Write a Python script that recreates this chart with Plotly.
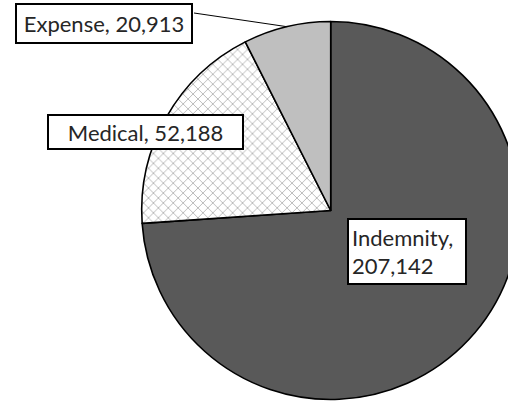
import math
import plotly.graph_objects as go

# Claim cost components
categories = ["Indemnity", "Medical", "Expense"]
values = [207142, 52188, 20913]
fills = ["#595959", "#ffffff", "#bfbfbf"]

W, H = 521, 402
cx, cy, r = 330.7, 210.5, 189.0  # pie centre / radius in pixels

fig = go.Figure(go.Pie(
    labels=categories,
    values=values,
    sort=False,
    direction="clockwise",
    rotation=0,
    textinfo="none",
    hoverinfo="label+value",
    marker=dict(
        colors=fills,
        line=dict(color="#000000", width=1.6),
        pattern=dict(
            shape=["", "x", ""],
            fgcolor=["#595959", "#b8b8b8", "#bfbfbf"],
            bgcolor=["#595959", "#ffffff", "#bfbfbf"],
            size=[7, 7, 7],
            solidity=[0.2, 0.25, 0.2],
        ),
    ),
    domain=dict(x=[(cx - r) / W, (cx + r) / W], y=[(H - cy - r) / H, (H - cy + r) / H]),
))


def px_to_paper(x, y):
    return x / W, 1 - y / H


def fmt(v):
    return f"{v:,}"


total = sum(values)
# mid-angle of each slice, clockwise from 12 o'clock
mids = []
acc = 0
for v in values:
    mids.append((acc + v / 2) / total * 2 * math.pi)
    acc += v

label_boxes = [
    # (text, centre px x, centre px y, box width, box height, align)
    (f"{categories[0]},<br>{fmt(values[0])}", 406.5, 251.5, 110, 61, "left"),
    (f"{categories[1]}, {fmt(values[1])}", 145.5, 132, 191, 30, "center"),
    (f"{categories[2]}, {fmt(values[2])}", 104, 23.5, 172, 35, "center"),
]
for text, bx, by, bw, bh, al in label_boxes:
    px, py = px_to_paper(bx, by)
    pad = 3 if al == "left" else 1
    fig.add_annotation(
        x=px, y=py, xref="paper", yref="paper",
        text=text, showarrow=False, align=al,
        xanchor="center", yanchor="middle",
        width=bw, height=bh - 2 * (pad - 1), borderpad=pad,
        bgcolor="#ffffff", bordercolor="#000000", borderwidth=2,
        font=dict(family="Lato, Open Sans, sans-serif", size=22, color="#262626"),
    )

# leader line from the Expense label to its slice edge
ang = mids[2]
ex = cx + r * math.sin(ang)
ey = cy - r * math.cos(ang)
x0, y0 = px_to_paper(194, 13)
x1, y1 = px_to_paper(ex, ey)
fig.add_shape(type="line", xref="paper", yref="paper", x0=x0, y0=y0, x1=x1, y1=y1,
              line=dict(color="#000000", width=1))

fig.update_layout(
    width=W, height=H,
    margin=dict(l=0, r=0, t=0, b=0),
    paper_bgcolor="#ffffff",
    showlegend=False,
)

fig.write_html(
    "out.html",
    post_script="document.documentElement.style.overflow='hidden';"
                "document.body.style.overflow='hidden';document.body.style.margin='0';",
)
